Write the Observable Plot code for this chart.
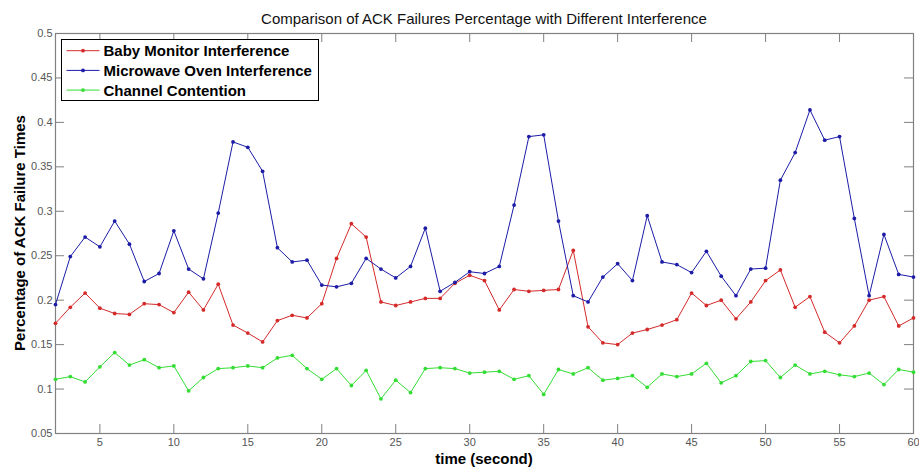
<!DOCTYPE html>
<html><head><meta charset="utf-8">
<script src="https://cdn.jsdelivr.net/npm/d3@7"></script>
<script src="https://cdn.jsdelivr.net/npm/@observablehq/plot@0.6"></script>
<style>body{margin:0;background:#fff;}</style>
</head><body><div id="chart"></div>
<script>
const time = [2,3,4,5,6,7,8,9,10,11,12,13,14,15,16,17,18,19,20,21,22,23,24,25,26,27,28,29,30,31,32,33,34,35,36,37,38,39,40,41,42,43,44,45,46,47,48,49,50,51,52,53,54,55,56,57,58,59,60];
const babyMonitor = [0.174,0.192,0.208,0.191,0.185,0.184,0.196,0.195,0.186,0.209,0.189,0.218,0.172,0.163,0.153,0.177,0.183,0.180,0.196,0.247,0.286,0.271,0.198,0.194,0.198,0.202,0.202,0.219,0.228,0.222,0.189,0.212,0.210,0.211,0.212,0.256,0.170,0.152,0.150,0.163,0.167,0.172,0.178,0.208,0.194,0.200,0.179,0.198,0.222,0.234,0.192,0.204,0.164,0.152,0.171,0.200,0.204,0.171,0.180];
const microwave = [0.195,0.249,0.271,0.260,0.289,0.263,0.221,0.230,0.278,0.235,0.224,0.298,0.378,0.372,0.345,0.259,0.243,0.245,0.217,0.215,0.219,0.247,0.235,0.225,0.238,0.281,0.210,0.220,0.232,0.230,0.238,0.307,0.384,0.386,0.289,0.205,0.198,0.226,0.241,0.222,0.295,0.243,0.240,0.231,0.255,0.227,0.205,0.235,0.236,0.335,0.366,0.414,0.380,0.384,0.292,0.205,0.274,0.229,0.226];
const contention = [0.111,0.114,0.108,0.125,0.141,0.127,0.133,0.124,0.126,0.098,0.113,0.123,0.124,0.126,0.124,0.135,0.138,0.123,0.111,0.123,0.104,0.121,0.089,0.110,0.096,0.123,0.124,0.123,0.118,0.119,0.120,0.111,0.115,0.094,0.122,0.117,0.124,0.110,0.112,0.115,0.102,0.117,0.114,0.117,0.129,0.107,0.115,0.131,0.132,0.113,0.127,0.117,0.120,0.116,0.114,0.118,0.105,0.122,0.119];
const seriesNames = ["Baby Monitor Interference","Microwave Oven Interference","Channel Contention"];
const seriesColors = ["#d42a2a","#1c1ca8","#33dd33"];
const xTicks = [5,10,15,20,25,30,35,40,45,50,55,60];
const yTicks = [0.05,0.1,0.15,0.2,0.25,0.3,0.35,0.4,0.45,0.5];
const yTickLabels = ["0.05","0.1","0.15","0.2","0.25","0.3","0.35","0.4","0.45","0.5"];
const titleText = "Comparison of ACK Failures Percentage with Different Interference";
const xLabel = "time (second)";
const yLabel = "Percentage of ACK Failure Times";

const rows = [];
[babyMonitor, microwave, contention].forEach((vals, k) =>
  vals.forEach((v, i) => rows.push({time: time[i], value: v, series: seriesNames[k]})));

const W = 919, H = 468, mL = 55, mR = 6, mT = 33, mB = 35;
const fw = W - mL - mR, fh = H - mT - mB, tl = 9;
const axisGray = "#808080";
const font = "'Liberation Sans', Arial, Helvetica, sans-serif";

const plot = Plot.plot({
  width: W, height: H, marginLeft: mL, marginRight: mR, marginTop: mT, marginBottom: mB,
  style: {fontFamily: font, background: "#fff"},
  x: {domain: [2, 60]},
  y: {domain: [0.05, 0.5]},
  color: {domain: seriesNames, range: seriesColors},
  marks: [
    Plot.axisX({ticks: xTicks, tickSize: 0, tickPadding: 5, label: null, fontSize: 11, color: "#555"}),
    Plot.axisY({ticks: yTicks, tickSize: 0, tickPadding: 3, label: null, fontSize: 11, color: "#555",
      tickFormat: d => yTickLabels[yTicks.indexOf(d)]}),
    Plot.ruleX(xTicks, {x: d => d, insetTop: fh - tl, stroke: axisGray}),
    Plot.ruleX(xTicks, {x: d => d, insetBottom: fh - tl, stroke: axisGray}),
    Plot.ruleY(yTicks, {y: d => d, insetRight: fw - tl, stroke: axisGray}),
    Plot.ruleY(yTicks, {y: d => d, insetLeft: fw - tl, stroke: axisGray}),
    Plot.frame({stroke: axisGray, strokeWidth: 1.2}),
    Plot.line(rows, {x: "time", y: "value", z: "series", stroke: "series", strokeWidth: 1}),
    Plot.dot(rows, {x: "time", y: "value", fill: "series", r: 1.9})
  ]
});
document.getElementById("chart").appendChild(plot);

const svg = d3.select(plot);
svg.append("text").attr("x", mL + fw / 2).attr("y", 24).attr("text-anchor", "middle")
  .attr("font-family", font).attr("font-size", 15).attr("fill", "#111").text(titleText);
svg.append("text").attr("x", mL + fw / 2).attr("y", 464).attr("text-anchor", "middle")
  .attr("font-family", font).attr("font-size", 15).attr("font-weight", "bold").attr("fill", "#000").text(xLabel);
svg.append("text").attr("transform", `translate(25,${mT + fh / 2}) rotate(-90)`).attr("text-anchor", "middle")
  .attr("font-family", font).attr("font-size", 15).attr("font-weight", "bold").attr("fill", "#000").text(yLabel);

const lg = svg.append("g");
lg.append("rect").attr("x", 61.5).attr("y", 39.5).attr("width", 257).attr("height", 61)
  .attr("fill", "#fff").attr("stroke", "#000").attr("stroke-width", 1);
seriesNames.forEach((name, i) => {
  const yy = 50.7 + i * 19.7;
  lg.append("line").attr("x1", 66.5).attr("x2", 99.5).attr("y1", yy).attr("y2", yy)
    .attr("stroke", seriesColors[i]).attr("stroke-width", 1);
  lg.append("circle").attr("cx", 83).attr("cy", yy).attr("r", 1.9).attr("fill", seriesColors[i]);
  lg.append("text").attr("x", 103.5).attr("y", yy).attr("dy", "0.36em").attr("text-anchor", "start")
    .attr("font-family", font).attr("font-size", 15).attr("font-weight", "bold").attr("fill", "#000").text(name);
});
</script>
</body></html>
